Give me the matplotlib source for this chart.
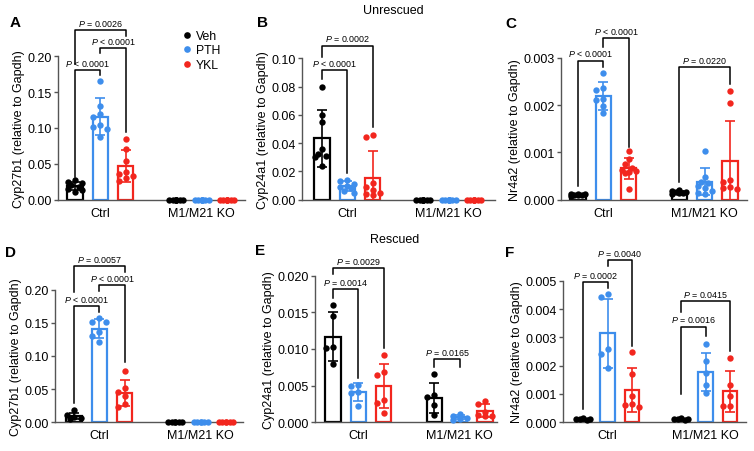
import numpy as np
import matplotlib
matplotlib.use('Agg')
import matplotlib.pyplot as plt
from matplotlib.lines import Line2D
from matplotlib.ticker import FormatStrFormatter

plt.rcParams['font.family'] = ['Liberation Sans', 'DejaVu Sans']
plt.rcParams['mathtext.fontset'] = 'custom'
plt.rcParams['mathtext.it'] = 'Liberation Sans:italic'
plt.rcParams['mathtext.rm'] = 'Liberation Sans'

genotypes = ['Ctrl', 'M1/M21 KO']
treatments = ['Veh', 'PTH', 'YKL']
colors = ['#000000', '#3E8EEC', '#F2261E']

# groups: Ctrl Veh, Ctrl PTH, Ctrl YKL, KO Veh, KO PTH, KO YKL
# A - Cyp27b1, unrescued
a_pts = [[0.027, 0.025, 0.023, 0.020, 0.018, 0.015, 0.013, 0.011],
         [0.166, 0.131, 0.119, 0.115, 0.104, 0.102, 0.099, 0.088],
         [0.085, 0.071, 0.054, 0.038, 0.036, 0.033, 0.030, 0.026],
         [0] * 8, [0] * 8, [0] * 8]
a_mean = [0.019, 0.116, 0.047, 0, 0, 0]
a_sd = [0.006, 0.026, 0.023, 0, 0, 0]

# B - Cyp24a1, unrescued
b_pts = [[0.080, 0.060, 0.055, 0.036, 0.032, 0.031, 0.030, 0.024],
         [0.014, 0.013, 0.011, 0.010, 0.009, 0.008, 0.006, 0.005],
         [0.046, 0.044, 0.012, 0.009, 0.007, 0.005, 0.004, 0.003],
         [0] * 8, [0] * 8, [0] * 8]
b_mean = [0.0434, 0.0098, 0.0151, 0, 0, 0]
b_sd = [0.020, 0.0033, 0.019, 0, 0, 0]

# C - Nr4a2, unrescued
c_pts = [[0.00013, 0.00012, 0.00011, 0.0001, 0.0001, 0.00009, 0.00008],
         [0.00267, 0.00235, 0.00232, 0.00213, 0.0021, 0.00198, 0.00184],
         [0.00102, 0.00086, 0.00075, 0.00066, 0.00062, 0.0006, 0.00058, 0.00056, 0.00022],
         [0.0002, 0.00018, 0.00017, 0.00016, 0.00015, 0.00014, 0.00013],
         [0.00102, 0.00049, 0.00038, 0.00035, 0.00028, 0.00024, 0.00019, 0.00014, 0.00012],
         [0.0023, 0.00205, 0.00042, 0.00038, 0.00026, 0.00024, 0.00023]]
c_mean = [0.00011, 0.00219, 0.00066, 0.00016, 0.00038, 0.00081]
c_sd = [0.00002, 0.0003, 0.00023, 0.00003, 0.00028, 0.00086]

# D - Cyp27b1, rescued
d_pts = [[0.018, 0.011, 0.008, 0.006, 0.005],
         [0.158, 0.152, 0.151, 0.136, 0.130, 0.121],
         [0.078, 0.052, 0.045, 0.040, 0.027, 0.023],
         [0] * 6, [0] * 6, [0] * 6]
d_mean = [0.0096, 0.1413, 0.044, 0, 0, 0]
d_sd = [0.005, 0.014, 0.020, 0, 0, 0]

# E - Cyp24a1, rescued
e_pts = [[0.016, 0.0145, 0.0103, 0.0101, 0.008],
         [0.0051, 0.0049, 0.0042, 0.0040, 0.0022],
         [0.0092, 0.0068, 0.0065, 0.0030, 0.0026, 0.0013],
         [0.0066, 0.0037, 0.0034, 0.0024, 0.0010],
         [0.0011, 0.0009, 0.0006, 0.0004, 0.0003],
         [0.0029, 0.0025, 0.0014, 0.0010, 0.0009, 0.0008]]
e_mean = [0.0117, 0.0041, 0.0049, 0.0033, 0.0007, 0.0016]
e_sd = [0.0034, 0.0012, 0.003, 0.002, 0.0003, 0.0009]

# F - Nr4a2, rescued
f_pts = [[0.00014, 0.00012, 0.00011, 0.0001, 0.00009],
         [0.00454, 0.00442, 0.00258, 0.00241, 0.00192],
         [0.00248, 0.0017, 0.00094, 0.00066, 0.00062, 0.00055],
         [0.00014, 0.00012, 0.00011, 0.0001, 0.00009],
         [0.00278, 0.00215, 0.00174, 0.00132, 0.00104],
         [0.00227, 0.00133, 0.00094, 0.00059, 0.00056]]
f_mean = [0.00011, 0.00314, 0.00114, 0.00011, 0.00178, 0.0011]
f_sd = [0.00002, 0.00123, 0.00077, 0.00002, 0.00068, 0.00072]

# P value brackets: (group i, group j, line y, left leg end, right leg end, text)
a_p = [(0, 1, 0.181, 0.031, 0.174, '< 0.0001'),
       (1, 2, 0.211, 0.205, 0.094, '< 0.0001'),
       (0, 2, 0.237, 0.189, 0.229, '= 0.0026')]
b_p = [(0, 1, 0.0915, 0.0854, 0.019, '< 0.0001'),
       (0, 2, 0.109, 0.1007, 0.0512, '= 0.0002')]
c_p = [(0, 1, 0.00294, 0.0003, 0.0028, '< 0.0001'),
       (1, 2, 0.00341, 0.00322, 0.00111, '< 0.0001'),
       (3, 5, 0.0028, 0.00037, 0.00245, '= 0.0220')]
d_p = [(0, 1, 0.176, 0.029, 0.166, '< 0.0001'),
       (1, 2, 0.207, 0.1985, 0.0905, '< 0.0001'),
       (0, 2, 0.235, 0.196, 0.227, '= 0.0057')]
e_p = [(0, 1, 0.0182, 0.0170, 0.0061, '= 0.0014'),
       (0, 2, 0.0211, 0.0202, 0.0102, '= 0.0029'),
       (3, 4, 0.0086, 0.0075, 0.0075, '= 0.0165')]
f_p = [(0, 1, 0.00496, 0.00047, 0.00473, '= 0.0002'),
       (1, 2, 0.00573, 0.00553, 0.0027, '= 0.0040'),
       (3, 4, 0.00338, 0.0010, 0.00306, '= 0.0016'),
       (3, 5, 0.00427, 0.00388, 0.00253, '= 0.0415')]

W, H = 754, 452
fig = plt.figure(figsize=(W / 100, H / 100), dpi=100)
xpos = [0, 1, 2, 4, 5, 6]


def swarm(ax, xc, vals):
    # spread overlapping dots sideways, prism style
    step, half, diam = 0.14, 0.30, 6.3
    placed = []
    xs = []
    for v in vals:
        best, best_d = None, -1
        for k in range(0, 4):
            for sgn in ([0] if k == 0 else [-1, 1]):
                dx = sgn * k * step
                if abs(dx) > half:
                    continue
                p = ax.transData.transform((xc + dx, v))
                d = min([np.hypot(*(p - q)) for q in placed] or [1e9])
                if d >= diam:
                    best, best_d = dx, d
                    break
                if d > best_d:
                    best, best_d = dx, d
            if best_d >= diam:
                break
        placed.append(ax.transData.transform((xc + best, v)))
        xs.append(xc + best)
    return xs


def draw_panel(rect, xlim, ytop, ystep, fmt, ylabel, pts, means, sds, brackets):
    left, right, y0, yt = rect
    ax = fig.add_axes([left / W, 1 - y0 / H, (right - left) / W, (y0 - yt) / H])
    ax.set_xlim(xlim)
    ax.set_ylim(0, ytop)
    for k in range(6):
        c = colors[k % 3]
        ax.bar(xpos[k], means[k], width=0.6, facecolor='white', edgecolor=c, lw=1.6, zorder=2)
        if sds[k] > 0:
            ax.errorbar(xpos[k], means[k], yerr=sds[k], color=c, lw=1.2, capsize=3.5,
                        capthick=1.2, zorder=3)
        xs = swarm(ax, xpos[k], pts[k])
        ax.scatter(xs, pts[k], s=21, color=c, zorder=4, clip_on=False, linewidths=0)
    for i, j, yl, ya, yb, txt in brackets:
        ax.plot([xpos[i], xpos[i], xpos[j], xpos[j]], [ya, yl, yl, yb], color='black',
                lw=1.1, clip_on=False, zorder=5)
        ax.annotate(r'$\it{P}$ ' + txt, xy=((xpos[i] + xpos[j]) / 2, yl), xytext=(0, 1.5),
                    textcoords='offset points', ha='center', va='bottom', fontsize=6.4,
                    annotation_clip=False)
    ax.set_yticks(np.arange(0, ytop + ystep / 2, ystep))
    ax.yaxis.set_major_formatter(FormatStrFormatter(fmt))
    ax.set_xticks([1, 5])
    ax.set_xticklabels(genotypes)
    ax.tick_params(axis='x', length=0, pad=5, labelsize=9)
    ax.tick_params(axis='y', length=3, width=1, pad=1.5, labelsize=9, color='#555555')
    for s in ['top', 'right']:
        ax.spines[s].set_visible(False)
    for s in ['left', 'bottom']:
        ax.spines[s].set_color('#555555')
        ax.spines[s].set_linewidth(1.0)
    ax.set_ylabel(ylabel, fontsize=9, labelpad=2)
    return ax


ax_a = draw_panel((58, 245, 200.7, 57.3), (-0.67, 6.71), 0.20, 0.05, '%.2f',
                  'Cyp27b1 (relative to Gapdh)', a_pts, a_mean, a_sd, a_p)
draw_panel((302, 495, 200.7, 59.3), (-0.79, 6.83), 0.10, 0.02, '%.2f',
           'Cyp24a1 (relative to Gapdh)', b_pts, b_mean, b_sd, b_p)
draw_panel((561, 747, 200.7, 58.7), (-0.67, 6.67), 0.003, 0.001, '%.3f',
           'Nr4a2 (relative to Gapdh)', c_pts, c_mean, c_sd, c_p)
draw_panel((55, 243, 423.3, 290.7), (-0.75, 6.67), 0.20, 0.05, '%.2f',
           'Cyp27b1 (relative to Gapdh)', d_pts, d_mean, d_sd, d_p)
draw_panel((315, 497, 423.3, 276.7), (-0.71, 6.47), 0.020, 0.005, '%.3f',
           'Cyp24a1 (relative to Gapdh)', e_pts, e_mean, e_sd, e_p)
draw_panel((563, 746, 423.3, 281.7), (-0.82, 6.65), 0.005, 0.001, '%.3f',
           'Nr4a2 (relative to Gapdh)', f_pts, f_mean, f_sd, f_p)

handles = [Line2D([], [], marker='o', ls='', color=c, markersize=4.8, markeredgewidth=0)
           for c in colors]
ax_a.legend(handles, treatments, loc='upper left', bbox_to_anchor=(183 / W, 1 - 31 / H),
            bbox_transform=fig.transFigure, frameon=False, fontsize=8.8, handlelength=0.6,
            handletextpad=0.45, labelspacing=0.2, borderpad=0, borderaxespad=0)

for letter, x, y in [('A', 15, 23), ('B', 262, 23), ('C', 511, 24),
                     ('D', 11, 253), ('E', 260, 251), ('F', 510, 253)]:
    fig.text(x / W, 1 - y / H, letter, fontsize=11, fontweight='bold', ha='center', va='center')
fig.text(393 / W, 1 - 11 / H, 'Unrescued', fontsize=9, ha='center', va='center')
fig.text(395 / W, 1 - 240 / H, 'Rescued', fontsize=9, ha='center', va='center')

fig.savefig('out.png', dpi=100)
